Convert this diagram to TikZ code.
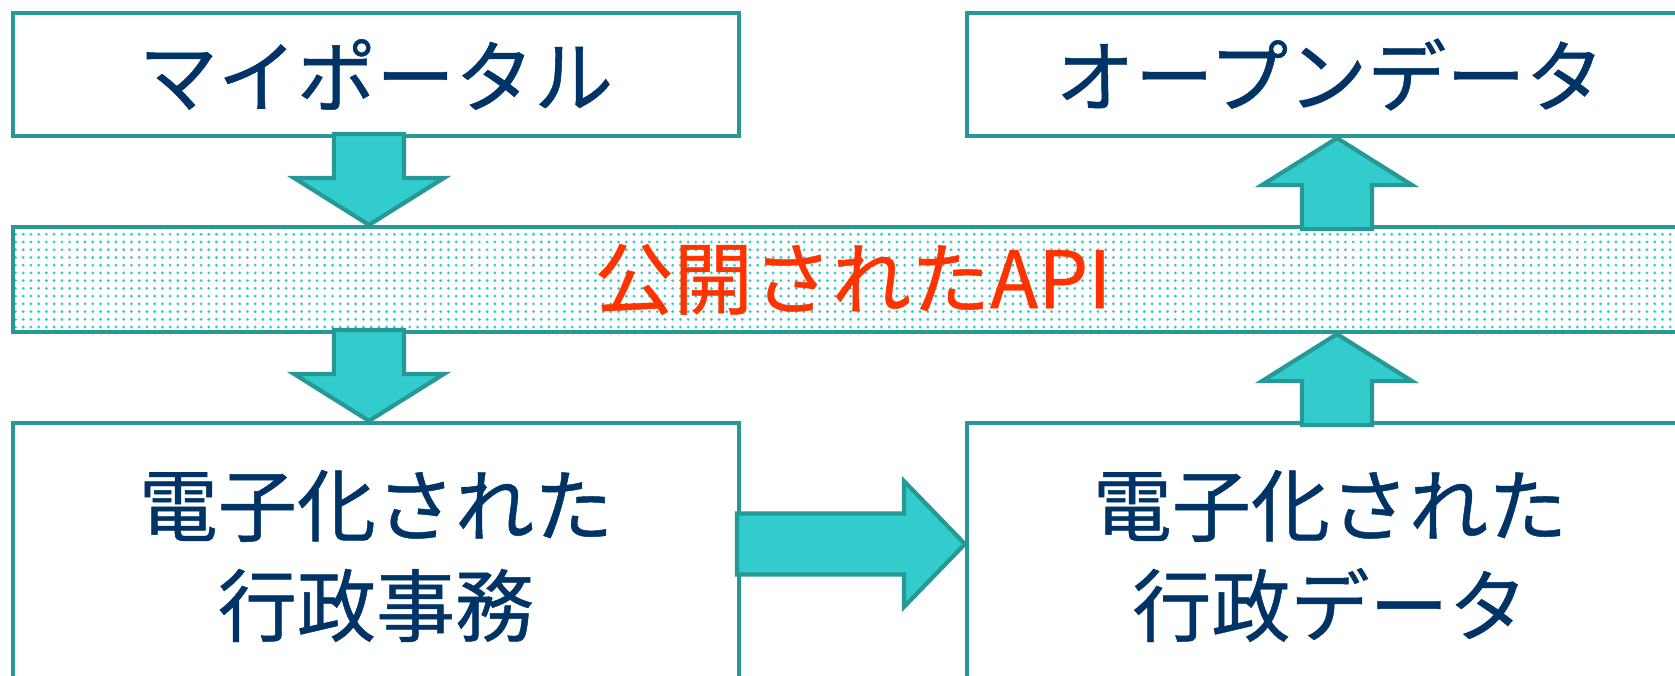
\documentclass[tikz,border=0pt]{standalone}
\usepackage{fontspec}
\setmainfont{Noto Sans CJK JP}
\newfontfamily\jpfont{Noto Sans CJK JP}[FakeBold=0.6]
\usetikzlibrary{calc,patterns.meta}
\definecolor{boxline}{RGB}{38,153,150}
\definecolor{arrowfill}{RGB}{51,204,204}
\definecolor{textnavy}{RGB}{0,51,102}
\definecolor{apired}{RGB}{255,51,0}

\begin{document}
\begin{tikzpicture}[
  box/.style={draw=boxline,line width=1.2pt,fill=white,inner sep=0pt,minimum width=7.26cm,
              text=textnavy,font=\jpfont\fontsize{22.5}{28.5}\selectfont,align=center},
  band/.style={draw=boxline,line width=1.2pt,inner sep=0pt,minimum width=16.8cm,minimum height=1.05cm,
               pattern={Dots[distance=2.2pt,radius=0.45pt]},pattern color=arrowfill,
               text=apired,font=\jpfont\fontsize{22.5}{28.5}\selectfont},
  blockarr/.style={draw=boxline,line width=1.2pt,fill=arrowfill,line join=miter},
  vblock/.pic={\draw[blockarr] (0,0) -- (0.75,-0.47) -- (0.35,-0.47) -- (0.35,-0.91)
               -- (-0.35,-0.91) -- (-0.35,-0.47) -- (-0.75,-0.47) -- cycle;},
  hblock/.pic={\draw[blockarr] (0,0) -- (-0.61,0.63) -- (-0.61,0.305) -- (-2.28,0.305)
               -- (-2.28,-0.305) -- (-0.61,-0.305) -- (-0.61,-0.63) -- cycle;}
]

  % page frame
  \fill[white] (0,0) rectangle (16.75,-6.75);
  \useasboundingbox (0,0) rectangle (16.75,-6.75);
  \clip (0,0) rectangle (16.75,-6.75);

  % top row
  \node[box,minimum height=1.23cm] (portal) at (3.76,-0.745) {マイポータル};
  \node[box,minimum height=1.23cm] (opendata) at (13.30,-0.745) {オープンデータ};

  % API band
  \node[band] (api) at (8.53,-2.795) {公開されたAPI};

  % bottom row
  \node[box,minimum height=2.66cm] (work) at (3.76,-5.56) {電子化された\\行政事務};
  \node[box,minimum height=2.66cm] (data) at (13.30,-5.56) {電子化された\\行政データ};

  % block arrows
  \pic[rotate=180] at ($(api.north -| portal.south)+(-0.07,0)$) {vblock};
  \pic[rotate=180] at ($(work.north)+(-0.07,0)$) {vblock};
  \pic at ($(opendata.south)+(0.07,0)$) {vblock};
  \pic at ($(api.south -| data.north)+(0.07,0)$) {vblock};
  \pic at ($(data.west)+(0,0.12)$) {hblock};

\end{tikzpicture}
\end{document}
